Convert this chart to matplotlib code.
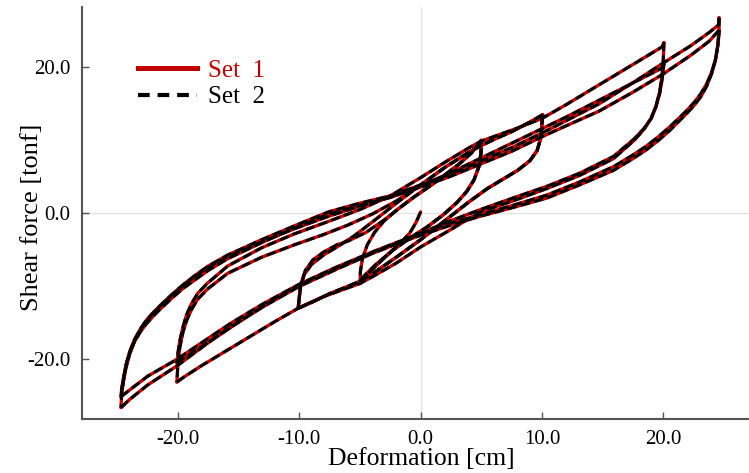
import matplotlib
matplotlib.use("Agg")
import matplotlib.pyplot as plt
from matplotlib.lines import Line2D

plt.rcParams['font.family'] = ['Liberation Serif', 'DejaVu Serif']
plt.rcParams['axes.unicode_minus'] = False

# ---------------- data ----------------
# virgin curve
init_x = [0.0, -0.4, -0.9, -1.7, -2.7, -3.7, -4.5, -4.9, -5.0]
init_y = [0.2, -1.3, -2.7, -4.1, -5.6, -7.0, -8.3, -9.0, -9.6]

# amplitude 5 cm loop
L5_x = [-5.0, -4.2, -3.2, -2.26, -0.9, 0.5, 1.86, 3.0, 3.8, 4.4, 4.8, 4.97, 5.0]
L5_y = [-9.6, -8.0, -6.4, -5.0, -3.4, -1.9, -0.2, 1.5, 3.0, 4.6, 6.4, 8.2, 10.0]
U5_x = [5.0, 4.2, 3.2, 2.26, 0.9, -0.5, -1.86, -3.0, -3.8, -4.4, -4.8, -4.97, -5.0]
U5_y = [10.0, 8.3, 6.8, 5.6, 3.9, 2.3, 0.6, -1.0, -2.6, -4.3, -6.2, -8.0, -9.6]
# from +5 cm to -10 cm
T5_10_x = [5.0, 4.2, 3.2, 2.26, 0.9, -0.5, -1.86, -3.0, -4.5, -6.0, -6.9, -8.0, -8.9, -9.5, -9.9, -10.1]
T5_10_y = [10.0, 8.3, 6.8, 5.6, 3.9, 2.3, 0.6, -0.9, -2.6, -3.8, -4.3, -5.3, -6.4, -7.8, -9.8, -13.0]

# amplitude 10 cm loop
L10_x = [-10.1, -9.0, -7.5, -6.0, -5.0, -4.0, -2.0, 0.0, 2.0, 4.0, 5.5, 6.7, 8.0, 9.0, 9.6, 9.9, 10.06]
L10_y = [-13.0, -12.2, -11.0, -10.0, -9.3, -8.3, -6.0, -3.6, -1.0, 1.6, 3.4, 4.6, 5.9, 7.2, 8.6, 10.3, 13.5]
U10_x = [10.06, 9.0, 7.5, 6.0, 5.0, 4.0, 2.0, 0.0, -2.0, -4.0, -5.5, -6.7, -8.0, -9.0, -9.6, -9.9, -10.1]
U10_y = [13.5, 12.5, 11.2, 10.1, 9.3, 8.4, 6.3, 3.9, 1.4, -1.2, -3.1, -4.4, -5.7, -7.0, -8.4, -10.0, -13.0]
# from +10 cm to -20 cm
T10_20_x = [10.06, 9.0, 7.5, 6.0, 5.0, 4.0, 2.0, 0.0, -2.0, -4.0, -6.0, -8.0, -10.4, -13.1, -15.9,
            -17.6, -18.4, -18.9, -19.3, -19.6, -19.85, -20.0, -20.1]
T10_20_y = [13.5, 12.5, 11.2, 10.1, 9.3, 8.4, 6.3, 3.9, 1.7, -0.1, -1.6, -2.9, -4.3, -6.0, -8.2,
            -10.4, -11.8, -13.2, -14.7, -16.3, -18.3, -20.3, -23.1]

# amplitude 20 cm loops (cycle a, cycle b)
L20a_x = [-20.1, -19.5, -18.0, -16.0, -14.0, -12.0, -10.0, -8.0, -6.0, -5.0, -4.0, -2.0, 0.0, 2.5,
          4.9, 7.6, 10.4, 13.1, 15.9, 17.6, 18.4, 19.0, 19.4, 19.7, 19.9, 20.0, 20.06]
L20a_y = [-23.1, -22.4, -20.8, -18.8, -16.8, -14.8, -12.9, -11.4, -10.2, -9.6, -8.7, -6.8, -4.6, -2.2,
          0.2, 1.7, 3.4, 5.2, 7.5, 10.0, 11.5, 13.0, 14.7, 16.6, 18.8, 21.0, 23.4]
U20a_x = [20.06, 19.9, 18.0, 16.0, 14.0, 12.0, 10.0, 8.0, 6.0, 5.0, 4.0, 2.0, 0.0, -2.5, -4.9, -7.6,
          -10.4, -13.1, -15.9, -17.6, -18.4, -18.9, -19.3, -19.6, -19.85, -20.0, -20.1]
U20a_y = [23.4, 22.8, 20.9, 18.9, 16.9, 14.9, 13.0, 11.7, 10.5, 9.9, 9.0, 7.0, 4.9, 2.4, 0.6, -1.1,
          -2.8, -4.7, -7.2, -9.6, -11.0, -12.4, -13.9, -15.6, -17.4, -19.0, -20.5]
L20b_x = [-20.1, -19.5, -18.0, -16.0, -14.0, -12.0, -10.0, -8.0, -6.0, -4.0, -2.0, 0.0, 2.5, 4.9,
          7.6, 10.4, 13.1, 15.9, 17.6, 18.4, 19.0, 19.4, 19.7, 19.9, 20.06]
L20b_y = [-20.5, -19.8, -18.2, -16.0, -13.8, -11.7, -9.8, -8.3, -6.8, -5.4, -4.1, -2.7, -1.0, 0.5,
          2.1, 3.7, 5.5, 7.8, 10.2, 11.6, 13.0, 14.6, 16.4, 18.3, 20.5]
# from +20 cm to -25 cm
T20_25_x = [20.06, 19.9, 18.0, 16.0, 14.0, 12.0, 10.0, 8.0, 6.0, 4.0, 2.0, 0.0, -2.5, -5.0, -7.6,
            -10.4, -13.1, -15.9, -17.5, -18.6, -19.6, -20.5, -21.4, -22.0, -22.6, -23.1, -23.6,
            -24.0, -24.3, -24.5, -24.65, -24.7]
T20_25_y = [20.5, 19.9, 18.3, 16.6, 14.9, 13.2, 11.6, 10.0, 8.4, 6.8, 5.2, 3.8, 2.2, 1.0, -0.4,
            -2.1, -3.9, -5.9, -7.4, -8.6, -9.9, -11.2, -12.6, -13.6, -14.8, -16.0, -17.5,
            -19.3, -21.2, -23.0, -24.6, -26.6]

# amplitude 25 cm loops (cycle a, cycle b)
L25a_x = [-24.7, -24.0, -22.5, -20.1, -17.5, -15.7, -13.0, -10.0, -7.0, -4.0, -2.0, 0.0, 2.5, 4.9,
          7.6, 10.4, 13.1, 15.9, 17.5, 18.6, 19.6, 20.5, 21.4, 22.0, 22.6, 23.1, 23.6, 24.0, 24.3,
          24.5, 24.6, 24.6]
L25a_y = [-26.6, -25.5, -23.5, -20.9, -17.7, -15.6, -12.8, -10.0, -7.7, -5.5, -4.2, -3.0, -1.6, -0.4,
          0.8, 2.1, 3.9, 5.9, 7.5, 8.7, 10.0, 11.3, 12.8, 13.8, 14.9, 16.0, 17.5, 19.2, 21.0,
          23.0, 24.8, 26.8]
U25a_x = [24.6, 24.55, 23.8, 22.3, 20.0, 17.5, 14.7, 12.0, 10.0, 7.5, 5.0, 2.5, 0.0, -2.5, -5.0,
          -7.6, -10.4, -13.1, -15.9, -17.5, -18.6, -19.6, -20.5, -21.4, -22.0, -22.6, -23.1, -23.6,
          -24.0, -24.3, -24.5, -24.65, -24.7]
U25a_y = [26.8, 25.8, 24.8, 23.0, 20.6, 17.9, 15.0, 12.7, 11.0, 9.0, 7.2, 5.4, 3.9, 2.4, 1.4,
          0.2, -1.7, -3.6, -5.7, -7.2, -8.5, -9.8, -11.1, -12.5, -13.5, -14.6, -15.8, -17.3,
          -19.0, -20.8, -22.6, -24.0, -25.1]
L25b_x = [-24.7, -24.0, -22.5, -20.1, -17.5, -15.7, -13.0, -10.0, -7.0, -4.0, -2.0, 0.0, 2.5, 4.9,
          7.6, 10.4, 13.1, 15.9, 17.5, 18.6, 19.6, 20.5, 21.4, 22.0, 22.6, 23.1, 23.6, 24.0, 24.3,
          24.5, 24.6]
L25b_y = [-25.1, -24.2, -22.3, -20.0, -17.1, -15.1, -12.4, -9.7, -7.4, -5.3, -4.0, -2.8, -1.3, -0.2,
          1.1, 2.5, 4.3, 6.4, 8.0, 9.2, 10.5, 11.8, 13.2, 14.2, 15.3, 16.4, 17.8, 19.4, 21.0,
          23.0, 25.1]
U25b_x = [24.6, 23.8, 22.3, 20.0, 17.5, 14.7, 12.0, 10.0, 7.5, 5.0, 2.5, 0.0, -2.5, -5.0, -7.6,
          -10.4, -13.1, -15.9, -17.5, -18.6, -19.6, -20.5, -21.4, -22.0, -22.6, -23.1, -23.6,
          -24.0, -24.3, -24.5, -24.7]
U25b_y = [25.1, 23.6, 21.7, 19.1, 16.6, 14.0, 12.0, 10.5, 8.5, 6.8, 5.1, 3.6, 2.2, 1.1, -0.1,
          -2.0, -4.0, -6.2, -7.8, -9.1, -10.3, -11.6, -13.0, -14.0, -15.1, -16.2, -17.6,
          -19.2, -20.9, -22.7, -25.1]

branches = [
    (init_x, init_y),
    (L5_x, L5_y), (U5_x, U5_y), (L5_x, L5_y), (T5_10_x, T5_10_y),
    (L10_x, L10_y), (U10_x, U10_y), (L10_x, L10_y), (T10_20_x, T10_20_y),
    (L20a_x, L20a_y), (U20a_x, U20a_y), (L20b_x, L20b_y), (T20_25_x, T20_25_y),
    (L25a_x, L25a_y), (U25a_x, U25a_y), (L25b_x, L25b_y), (U25b_x, U25b_y),
]

series_labels = ["Set  1", "Set  2"]
x_ticks = [-20.0, -10.0, 0.0, 10.0, 20.0]
y_ticks = [-20.0, 0.0, 20.0]

RED = "#c00000"

# ---------------- figure ----------------
fig = plt.figure(figsize=(7.49, 4.73), dpi=100)
ax = fig.add_axes([0.109, 0.114, 0.891, 0.871])

ax.axhline(0, color="#e3e3e3", lw=1.0, zorder=0)
ax.axvline(0, color="#e3e3e3", lw=1.0, zorder=0)

# Set 1 (solid red)
for bx, by in branches:
    ax.plot(bx, by, color=RED, lw=2.4, solid_capstyle="round", solid_joinstyle="round", zorder=2)
# Set 2 (dashed black) - overlaps Set 1
for bx, by in branches:
    ax.plot(bx, by, color="black", lw=2.1, dashes=(3.2, 1.5), zorder=3)

ax.set_xlim(-27.95, 27.07)
ax.set_ylim(-28.18, 28.26)
ax.set_xticks(x_ticks)
ax.set_yticks(y_ticks)
ax.set_xticklabels([f"{v:.1f}" for v in x_ticks])
ax.set_yticklabels([f"{v:.1f}" for v in y_ticks])

for s in ["top", "right"]:
    ax.spines[s].set_visible(False)
for s in ["left", "bottom"]:
    ax.spines[s].set_color("#555555")
    ax.spines[s].set_linewidth(1.5)

ax.tick_params(direction="in", length=5, width=1.0, color="#555555",
               labelsize=15, pad=8, labelcolor="black")

ax.set_xlabel("Deformation [cm]", fontsize=18.5)
ax.set_ylabel("Shear force [tonf]", fontsize=19)
ax.xaxis.set_label_coords(0.5085, -0.071)
ax.yaxis.set_label_coords(-0.058, 0.49)

handles = [Line2D([], [], color=RED, lw=3.6),
           Line2D([], [], color="black", lw=3.0, dashes=(2.8, 1.9))]
leg = ax.legend(handles, series_labels, loc="upper left", bbox_to_anchor=(0.0844, 0.873),
                frameon=False, fontsize=18, handlelength=2.35, handletextpad=0.45,
                labelspacing=0.16, borderpad=0, borderaxespad=0)
leg.get_texts()[0].set_color(RED)
leg.get_texts()[1].set_color("black")

fig.savefig("out.png", dpi=100)
